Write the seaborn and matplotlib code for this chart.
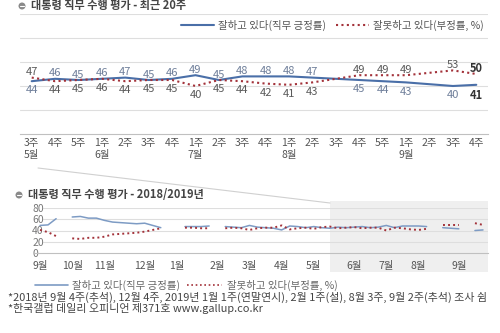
import numpy as np
import pandas as pd
import matplotlib
matplotlib.use("Agg")
import matplotlib.pyplot as plt
import matplotlib.transforms as mtransforms
from matplotlib.patches import Rectangle, Ellipse
from matplotlib.lines import Line2D
import seaborn as sns

sns.set_theme(style="white")
plt.rcParams['font.family'] = ['Noto Sans CJK KR', 'DejaVu Sans']

nan = np.nan

# ---- recent 20 weeks ----
week_labels = ["3주", "4주", "5주", "1주", "2주", "3주", "4주", "1주", "2주", "3주",
               "4주", "1주", "2주", "3주", "4주", "5주", "1주", "2주", "3주", "4주"]
month_labels = ["5월", "", "", "6월", "", "", "", "7월", "", "",
                "", "8월", "", "", "", "", "9월", "", "", ""]
approve_20 = [44, 46, 45, 46, 47, 45, 46, 49, 45, 48,
              48, 48, 47, nan, 45, 44, 43, nan, 40, 41]
disapprove_20 = [47, 44, 45, 46, 44, 45, 45, 40, 45, 44,
                 42, 41, 43, nan, 49, 49, 49, nan, 53, 50]

# ---- weekly series, 2018 Sep wk1 .. 2019 Sep wk4 ----
approve_all = [49, 50, 61, nan, 64, 65, 62, 62, 58, 55,
               54, 53, 52, 53, 49, 45, nan, nan, 47, 47,
               47, 48, nan, 47, 46, 45, 49, 46, 45, 44,
               41, 48, 47, 45, 47, 45, 44, 46, 45, 46,
               47, 45, 46, 49, 45, 48, 48, 48, 47, nan,
               45, 44, 43, nan, 40, 41]
disapprove_all = [41, 37, 30, nan, 26, 25, 27, 27, 29, 33,
                  34, 35, 36, 38, 41, 44, nan, nan, 45, 45,
                  44, 44, nan, 44, 45, 44, 41, 44, 45, 45,
                  49, 42, 44, 45, 43, 46, 47, 44, 45, 46,
                  44, 45, 45, 40, 45, 44, 42, 41, 43, nan,
                  49, 49, 49, nan, 53, 50]
month_names = ["9월", "10월", "11월", "12월", "1월", "2월", "3월",
               "4월", "5월", "6월", "7월", "8월", "9월"]
month_first_week = [0, 4, 8, 13, 17, 22, 26, 30, 34, 39, 43, 47, 52]
recent_first_week = 36

LABEL_POS = "잘하고 있다(직무 긍정률)"
LABEL_NEG = "잘못하고 있다(부정률, %)"

BLUE = "#4a6fa8"
BLUE_LIGHT = "#7d9bc4"
RED = "#a3323a"
GRID = "#dedede"
TXT = "#555555"

fig = plt.figure(figsize=(5.0, 3.33), dpi=100)
W, H = 500.0, 333.0


def fx(px):
    return px / W


def fy(py):
    return (H - py) / H


def bullet(xp, yp):
    fig.patches.append(Ellipse((fx(xp), fy(yp)), 7 / W, 7 / H, transform=fig.transFigure,
                               facecolor="#8a8a8a", edgecolor="none", zorder=5))
    fig.lines.append(Line2D([fx(xp - 2), fx(xp + 2)], [fy(yp), fy(yp)],
                            transform=fig.transFigure, color="white", lw=0.8, zorder=6))


# ================= top chart =================
ax1 = fig.add_axes([fx(20), fy(134), fx(488) - fx(20), fy(14) - fy(134)])
ax1.patch.set_alpha(0)
top = pd.DataFrame({"x": np.arange(len(week_labels)),
                    "pos": approve_20, "neg": disapprove_20})
sns.lineplot(data=top.dropna(subset=["pos"]), x="x", y="pos", ax=ax1,
             color=BLUE, lw=1.5, label=LABEL_POS)
sns.lineplot(data=top.dropna(subset=["neg"]), x="x", y="neg", ax=ax1,
             color=RED, lw=1.5, linestyle=(0, (1, 1.6)), label=LABEL_NEG)
ax1.set_xlim(-0.5, len(week_labels) - 0.5)
ax1.set_ylim(0, 100)
ax1.set_yticks([20, 40, 60, 80, 100])
ax1.set_yticklabels([])
ax1.yaxis.grid(True, color=GRID, lw=0.8)
ax1.tick_params(axis="y", length=0)
for s in ["top", "right", "left"]:
    ax1.spines[s].set_visible(False)
ax1.spines["bottom"].set_color("#c0c0c0")
ax1.spines["bottom"].set_linewidth(0.8)
ax1.set_xticks(top["x"])
ax1.set_xticklabels([w + ("\n" + m if m else "") for w, m in zip(week_labels, month_labels)],
                    fontsize=7.5, color=TXT, linespacing=1.25, va="top")
ax1.tick_params(axis="x", which="major", length=0, pad=3)
ax1.set_xticks(np.arange(-0.5, len(week_labels)), minor=True)
ax1.tick_params(axis="x", which="minor", length=3, color="#c0c0c0", width=0.8)
ax1.set_xlabel("")
ax1.set_ylabel("")
ax1.legend(loc="upper right", bbox_to_anchor=(1.0, 0.985), ncol=2, frameon=False,
           fontsize=7.5, handlelength=3.2, handletextpad=0.4, columnspacing=0.9,
           labelcolor=TXT, borderaxespad=0)

n = len(week_labels)
for i, (p, q) in enumerate(zip(approve_20, disapprove_20)):
    if np.isnan(p) or np.isnan(q):
        continue
    last = i == n - 1
    kw = dict(fontsize=8, ha="center", textcoords="offset points",
              fontweight="bold" if last else "normal")
    pc = "#333333" if last else "#6f7f9a"
    qc = "#333333" if last else "#5a5a5a"
    hi, lo = ((p, pc), (q, qc)) if p >= q else ((q, qc), (p, pc))
    ax1.annotate(f"{hi[0]:.0f}", (i, hi[0]), xytext=(0, 1.8), va="baseline", color=hi[1], **kw)
    ax1.annotate(f"{lo[0]:.0f}", (i, lo[0]), xytext=(0, -3), va="top", color=lo[1], **kw)

bullet(22, 6)
fig.text(fx(31), fy(6), "대통령 직무 수행 평가 - 최근 20주", fontsize=8, fontweight="bold",
         color="#444444", va="center", ha="left")

# ================= bottom chart =================
nweeks = len(approve_all)
ax_l, ax_r = 35.0, 488.0
ax2 = fig.add_axes([fx(ax_l), fy(253), fx(ax_r) - fx(ax_l), fy(208) - fy(253)])
ax2.patch.set_alpha(0)
x0_px, x1_px = 40.0, 483.0
step = (x1_px - x0_px) / (nweeks - 1)
ax2.set_xlim(-(x0_px - ax_l) / step, (nweeks - 1) + (ax_r - x1_px) / step)
ax2.set_ylim(0, 80)

# shaded block for the recent period, kept behind the axes
blend = mtransforms.blended_transform_factory(ax2.transData, fig.transFigure)
shade = Rectangle((recent_first_week - 0.05, fy(272)),
                  ax2.get_xlim()[1] - recent_first_week + 0.05,
                  fy(201) - fy(272), transform=blend, facecolor="#efefef",
                  edgecolor="none", zorder=-5, clip_on=False)
fig.patches.append(shade)

# gridlines begin just right of the value labels
for v in [20, 40, 60, 80]:
    ax2.axhline(v, xmin=(43 - ax_l) / (ax_r - ax_l), xmax=1, color=GRID, lw=0.8, zorder=0)

allw = pd.DataFrame({"x": np.arange(nweeks), "pos": approve_all, "neg": disapprove_all})
allw["seg"] = allw["pos"].isna().cumsum()
sns.lineplot(data=allw.dropna(subset=["pos"]), x="x", y="pos", units="seg", estimator=None,
             ax=ax2, color=BLUE_LIGHT, lw=1.1)
sns.lineplot(data=allw.dropna(subset=["neg"]), x="x", y="neg", units="seg", estimator=None,
             ax=ax2, color=RED, lw=1.4, linestyle=(0, (1, 1.6)))
ax2.set_yticks([0, 20, 40, 60, 80])
ax2.set_yticklabels(["0", "20", "40", "60", "80"], fontsize=7.5, color="#777777")
ax2.tick_params(axis="y", length=0, pad=2)
for lab in ax2.get_yticklabels():
    lab.set_horizontalalignment("left")
for s in ["top", "right", "left"]:
    ax2.spines[s].set_visible(False)
ax2.spines["bottom"].set_color("#c0c0c0")
ax2.spines["bottom"].set_linewidth(0.8)
ax2.set_xticks(month_first_week)
ax2.set_xticklabels(month_names, fontsize=7.5, color=TXT)
ax2.tick_params(axis="x", which="major", length=0, pad=6)
ax2.set_xticks(np.arange(-0.5, nweeks), minor=True)
ax2.tick_params(axis="x", which="minor", length=3, color="#c0c0c0", width=0.7)
ax2.set_xlabel("")
ax2.set_ylabel("")

bullet(19, 195)
fig.text(fx(28), fy(195), "대통령 직무 수행 평가 - 2018/2019년", fontsize=8, fontweight="bold",
         color="#444444", va="center", ha="left")

# connector from the recent-20-week panel to the shaded block
fig.lines.append(Line2D([fx(38), fx(330)], [fy(168), fy(203)], transform=fig.transFigure,
                        color="#d0d0d0", lw=0.8))

# bottom legend
fig.lines.append(Line2D([fx(35), fx(68)], [fy(285), fy(285)], transform=fig.transFigure,
                        color=BLUE_LIGHT, lw=1.2))
fig.text(fx(72), fy(285), LABEL_POS, fontsize=7.5, color="#666666", va="center")
fig.lines.append(Line2D([fx(187), fx(222)], [fy(285), fy(285)], transform=fig.transFigure,
                        color=RED, lw=1.2, linestyle=(0, (1, 1.6))))
fig.text(fx(227), fy(285), LABEL_NEG, fontsize=7.5, color="#666666", va="center")

# footnotes
fig.text(fx(8), fy(297), "*2018년 9월 4주(추석), 12월 4주, 2019년 1월 1주(연말연시), 2월 1주(설), 8월 3주, 9월 2주(추석) 조사 쉼",
         fontsize=7.9, color="#444444", va="center")
fig.text(fx(8), fy(309), "*한국갤럽 데일리 오피니언 제371호 www.gallup.co.kr",
         fontsize=7.9, color="#444444", va="center")

fig.savefig("out.png", dpi=100)
